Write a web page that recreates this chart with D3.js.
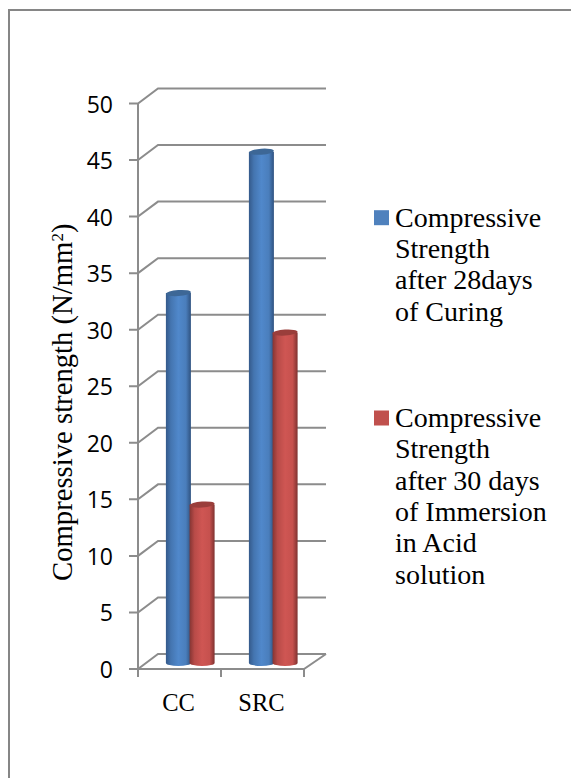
<!DOCTYPE html>
<html><head><meta charset="utf-8">
<script src="https://cdn.jsdelivr.net/npm/d3@7"></script>
<style>html,body{margin:0;padding:0;background:#fff}svg{display:block}</style>
</head><body><div id="c"></div>
<script>
const categories = ["CC", "SRC"];
const seriesNames = ["Compressive Strength after 28days of Curing", "Compressive Strength after 30 days of Immersion in Acid solution"];
const curing = [32.8, 45.3];
const immersion = [14.1, 29.3];
const yTicks = [0,5,10,15,20,25,30,35,40,45,50];
const legendLines = [
  ["Compressive","Strength","after 28days","of Curing"],
  ["Compressive","Strength","after 30 days","of Immersion","in Acid","solution"]
];
const yTitle = "Compressive strength (N/mm";

const W=571,H=778;
const svg=d3.select("#c").append("svg").attr("width",W).attr("height",H);
const GRID="#8c8c8c";
const serif="'Liberation Serif','DejaVu Serif',serif";
const sans="'Open Sans','Noto Sans',sans-serif";

const defs=svg.append("defs");
function grad(id,stops){
  const g=defs.append("linearGradient").attr("id",id).attr("x1","0").attr("x2","1").attr("y1","0").attr("y2","0");
  stops.forEach(([o,c])=>g.append("stop").attr("offset",o).attr("stop-color",c));
}
grad("gb",[[0,"#34598a"],[.2,"#4475b0"],[.5,"#5088cb"],[.8,"#4a7ebc"],[1,"#2f5280"]]);
grad("gr",[[0,"#853533"],[.2,"#b84b48"],[.5,"#cf5653"],[.8,"#c6514e"],[1,"#7f3230"]]);

svg.append("rect").attr("x",9).attr("y",10).attr("width",W+20).attr("height",H+20)
  .attr("fill","#fff").attr("stroke","#868686").attr("stroke-width",2);

const y=d3.scaleLinear().domain([0,50]).range([669,103.5]);
const x=d3.scaleBand().domain(categories).range([138,304]);
const dx=20,dy=-15;

const g=svg.append("g").attr("stroke",GRID).attr("stroke-width",2).attr("fill","none");
yTicks.forEach(t=>{
  const py=y(t);
  g.append("path").attr("d",d3.line()([[129,py],[138,py],[138+dx,py+dy],[304+22,py+dy]]));
});
g.append("line").attr("x1",138).attr("x2",138).attr("y1",y(50)).attr("y2",y(0)+8);
g.append("path").attr("d",d3.line()([[138,y(0)],[304,y(0)],[326,y(0)+dy]]));
categories.map(c=>x(c)+x.bandwidth()).forEach(px=>{
  g.append("line").attr("x1",px).attr("x2",px).attr("y1",y(0)).attr("y2",y(0)+8);
});

const barW=25, ry=3, base=-5;
const seriesOffset=[27.9,51.6];
function cyl(val,cat,i,fill,top){
  const l=x(cat)+seriesOffset[i], r=l+barW, cx=l+barW/2;
  const yt=y(val)+base, yb=y(0)+base;
  const gg=svg.append("g");
  gg.append("path").attr("fill",`url(#${fill})`)
    .attr("d",`M${l},${yt}L${l},${yb-1}A${barW/2},${ry},0,0,0,${r},${yb-1}L${r},${yt}Z`);
  gg.append("ellipse").attr("cx",cx).attr("cy",yt).attr("rx",barW/2).attr("ry",ry).attr("fill",top)
    .attr("transform",`rotate(-4 ${cx} ${yt})`);
}
categories.forEach((c,k)=>{
  cyl(curing[k],c,0,"gb","#3d6796");
  cyl(immersion[k],c,1,"gr","#9a3e3b");
});

svg.append("g").selectAll("text").data(yTicks).join("text")
  .attr("x",113).attr("y",d=>y(d)+9).attr("text-anchor","end")
  .attr("font-family",sans).attr("font-size",23).attr("fill","#000").text(d=>d);

svg.append("g").selectAll("text").data(categories).join("text")
  .attr("x",d=>x(d)+x.bandwidth()/2-1).attr("y",711).attr("text-anchor","middle")
  .attr("font-family",serif).attr("font-size",24.5).attr("fill","#000").text(d=>d);

const t=svg.append("text").attr("transform","translate(72,581) rotate(-90)")
  .attr("font-family",serif).attr("font-size",28.7).attr("fill","#000");
t.append("tspan").text(yTitle);
t.append("tspan").attr("dy",-9).attr("font-size",17).text("2");
t.append("tspan").attr("dy",9).text(")");

const legTop=[226.7,427], colors=["#4f81bd","#c0504d"];
legendLines.forEach((lines,i)=>{
  svg.append("rect").attr("x",374).attr("y",legTop[i]-16.5).attr("width",15).attr("height",15).attr("fill",colors[i]);
  svg.append("g").selectAll("text").data(lines).join("text")
    .attr("x",395).attr("y",(d,j)=>legTop[i]+j*31.3)
    .attr("font-family",serif).attr("font-size",28).attr("fill","#000").text(d=>d);
});
</script></body></html>
